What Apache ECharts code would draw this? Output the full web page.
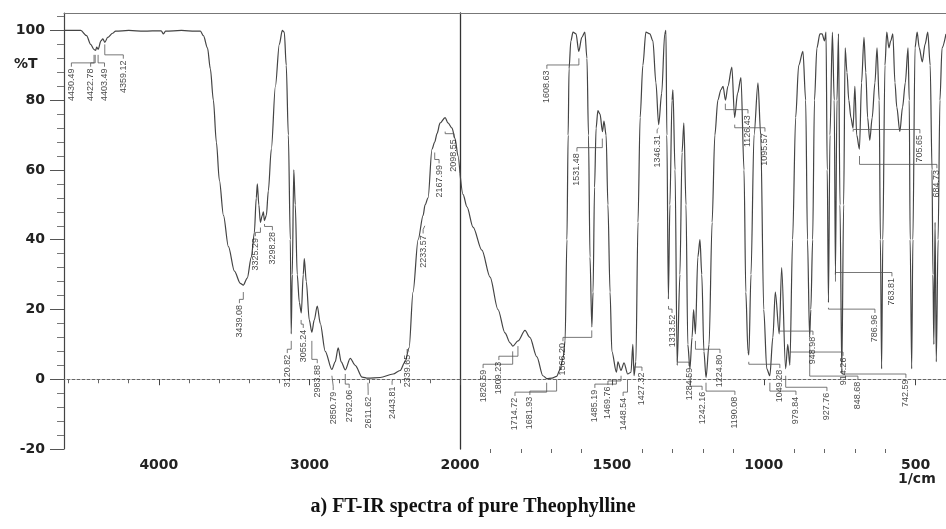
<!DOCTYPE html>
<html><head><meta charset="utf-8">
<script src="https://cdn.jsdelivr.net/npm/echarts@6/dist/echarts.min.js"></script>
<style>html,body{margin:0;padding:0;background:#fff}#c{width:946px;height:529px}</style>
</head><body><div id="c"></div>
<script>
// ---- spectrum, 4630-2000 cm-1 (compressed scale) ----
const leftWn = [4630,4519,4480,4453,4430,4420,4413,4403,4385,4372,4359,4340,4307,4287,4200,4100,3985,3969,3956,3850,3760,3724,3704,3677,3658,3638,3618,3598,3571,3538,3498,3459,3439,3413,3386,3366,3353,3346,3336,3326,3313,3306,3299,3286,3273,3253,3226,3200,3180,3167,3154,3140,3127,3121,3114,3104,3094,3081,3067,3054,3041,3034,3021,3001,2984,2968,2948,2928,2895,2851,2829,2809,2789,2762,2729,2696,2650,2612,2530,2444,2398,2365,2338,2312,2278,2245,2232,2212,2186,2168,2152,2133,2099,2080,2053,2033,2013,2000];
const leftT  = [100,100,98.5,96,94.5,94.3,95.2,94.6,97,97.6,96.6,98,99.2,99.8,100,99.8,99.9,99,99.8,100,99.8,99.8,98.5,95,89,80,68,57,47,38,31,27.5,27,29,35,42,52,56,50,45,47,48,45.5,47,54,66,84,96,100,99.5,90,70,40,13,30,60,50,30,22,19,30,34.6,28,17,13.5,17,21,16,8,2.8,5,9,5,2.7,6,4,0.6,0.3,0.5,1.5,2.5,5,9,25,40,47,50,52,66,68,70.5,73.4,75,73.5,72,69,64,59];
// ---- spectrum, 2000-400 cm-1 (expanded scale) ----
const rightWn = [2000,1990,1977,1957,1928,1901,1875,1852,1835,1826,1809,1786,1770,1747,1727,1714,1697,1682,1671,1661,1654,1648,1644,1641,1635,1628,1618,1609,1599,1589,1582,1577,1572,1566,1562,1557,1552,1546,1539,1531,1526,1519,1513,1506,1500,1485,1480,1470,1460,1448,1437,1431,1427,1421,1414,1407,1398,1388,1375,1365,1355,1346,1336,1326,1322,1319,1314,1309,1302,1299,1292,1285,1276,1269,1263,1256,1250,1243,1236,1231,1225,1217,1210,1204,1197,1190,1180,1170,1161,1151,1141,1134,1126,1118,1105,1096,1086,1075,1065,1059,1052,1049,1042,1032,1019,1010,1000,990,980,970,962,949,941,928,921,914,905,895,885,871,862,856,849,845,839,833,825,815,808,800,795,791,787,782,774,768,764,759,754,749,743,737,732,726,720,713,706,700,694,685,678,670,664,658,651,643,634,627,620,616,612,608,601,595,588,582,575,568,562,552,543,534,525,521,518,513,509,502,495,488,478,469,460,452,446,443,440,436,432,426,420,413,400];
const rightT  = [59,53,49.4,43.6,37,29.3,20,13.3,10.4,9.5,11,14,12,6.4,1,0.2,0.3,0.8,2.7,6,11,40,70,89,97,99.5,99,94,98,99.5,92,70,35,15,25,55,72,77,76,71,74,70,50,25,8,2,5,2.5,4.7,1.5,2,10,1,5,45,75,90,99.5,99,97,85,73,82,99,100,70,23,50,80,83,60,4,30,65,73.5,50,10,3,12,20,13,35,40,30,8,0.5,10,45,70,80,83,84,80,84,89.5,75,82,86.5,60,25,8,7,30,70,85,70,20,3,1,12,25,13,32,3,10,4,40,75,90,94,80,40,12,20,40,80,95,99,99,97,99.5,60,22,70,99.5,80,30,80,99,50,2,50,95,88,80,75,72,84,70,66,85,98,88,75,68.5,75,85,95,80,40,3,40,90,99.5,95,97,99,85,78,71,78,85,95,80,40,3,40,95,99.5,95,91,96,99.5,90,60,30,10,45,5,40,80,95,99];
// ---- axis ticks ----
const yTicks = [-20,0,20,40,60,80,100];
const yMinor = [-16,-12,-8,-4,4,8,12,16,24,28,32,36,44,48,52,56,64,68,72,76,84,88,92,96,104];
const xMajorLeft = [2000,3000,4000];
const xMinorLeft = [2200,2400,2600,2800,3200,3400,3600,3800,4200,4400,4600];
const xMajorRight = [500,1000,1500];
const xMinorRight = [600,700,800,900,1100,1200,1300,1400,1600,1700,1800,1900];
// ---- peak annotations ----
const peakLabels = ['4430.49','4422.78','4403.49','4359.12','3439.08','3325.29','3298.28','3120.82','3055.24','2983.88','2850.79','2762.06','2611.62','2443.81','2339.65','2233.57','2167.99','2098.55','1826.59','1809.23','1714.72','1681.93','1608.63','1566.20','1531.48','1485.19','1469.76','1448.54','1427.32','1346.31','1313.52','1284.59','1242.16','1224.80','1190.08','1126.43','1095.57','1049.28','979.84','948.98','927.76','914.26','848.68','786.96','763.81','742.59','705.65','684.73'];
const labelWn = [4581,4453,4361,4236,3465,3359,3246,3147,3041,2948,2842,2736,2610,2451,2351,2245,2139,2040,1924,1872,1819,1770,1714,1661,1615,1556,1513,1463,1401,1351,1302,1246,1203,1144,1095,1052,996,947,894,838,792,739,690,634,578,532,486,430];
const labelT = [89.1,89.1,89.1,91.4,21.3,40.5,42.2,7,14.2,4.1,-3.6,-3,-5,-2.1,7,41.3,61.4,68.8,2.7,5,-5.3,-5,88.5,10.4,64.8,-3,-2.1,-5.3,1.9,70,18.5,3.3,-3.6,7,-5,75.7,70.5,2.7,-5,12.2,-3.9,6.2,-0.7,18.5,29,-0.1,70,60];
const leaderEndT = [93,93,93,96,25,43.5,44.5,11,17,11,1,1.5,-1,0,8,44,65,71,8,9.5,-1,0,92,14,69,0,1,0,3,72,21,6,1,11,-1,79,73,5,-1,14,1,8,10,20.5,28,3,71,64];

const chart = echarts.init(document.getElementById('c'), null, {renderer: 'canvas'});
const axisFont = {fontFamily: 'DejaVu Sans', fontWeight: 'bold', fontSize: 14, color: '#222', formatter: v => String(v)};
const gridTop = 13, gridH = 436;

function leaderSeries(i) {
  const pk = parseFloat(peakLabels[i]);
  const onLeft = labelWn[i] >= 2000;
  const elbow = labelT[i] + 1.6;
  return {
    type: 'line', xAxisIndex: onLeft ? 0 : 3, yAxisIndex: onLeft ? 0 : 2,
    data: [[labelWn[i], labelT[i] + 0.5], [labelWn[i], elbow], [pk, elbow], [pk, leaderEndT[i]]],
    symbol: 'none', silent: true, animation: false, z: 3,
    lineStyle: {color: '#555', width: 0.8}
  };
}
function labelSeries(left) {
  const data = [];
  peakLabels.forEach((t, i) => { if ((labelWn[i] >= 2000) === left) data.push([labelWn[i], labelT[i], t]); });
  return {
    type: 'scatter', xAxisIndex: left ? 0 : 3, yAxisIndex: left ? 0 : 2,
    data, symbol: 'circle', symbolSize: 1, itemStyle: {color: 'rgba(0,0,0,0)'}, silent: true, animation: false, z: 4,
    label: {show: true, formatter: p => p.data[2], rotate: 90, position: 'inside', align: 'right', verticalAlign: 'middle',
      fontFamily: "'Liberation Sans Narrow', 'Liberation Sans', Arial", fontSize: 9, color: '#151515'}
  };
}

const series = [
  {type: 'line', xAxisIndex: 0, yAxisIndex: 0, data: leftWn.map((w, i) => [w, leftT[i]]), symbol: 'none', smooth: 0.3, smoothMonotone: 'x', animation: false, z: 2,
   lineStyle: {color: '#444', width: 1.2}},
  {type: 'line', xAxisIndex: 3, yAxisIndex: 2, data: rightWn.map((w, i) => [w, rightT[i]]), symbol: 'none', smooth: 0.3, smoothMonotone: 'x', animation: false, z: 2,
   lineStyle: {color: '#444', width: 1.2}},
  labelSeries(true), labelSeries(false)
];
peakLabels.forEach((_, i) => series.push(leaderSeries(i)));

const option = {
  animation: false,
  backgroundColor: '#fff',
  title: {text: 'a) FT-IR spectra of pure Theophylline', left: 'center', top: 492,
    textStyle: {fontFamily: "'Liberation Serif', serif", fontWeight: 'bold', fontSize: 20, color: '#111'}},
  grid: [
    {left: 64, top: gridTop, width: 396, height: gridH},
    {left: 460, top: gridTop, width: 486, height: gridH}
  ],
  xAxis: [
    {gridIndex: 0, type: 'value', inverse: true, min: 2000, max: 4630, position: 'bottom',
     axisLine: {show: true, lineStyle: {color: '#666', width: 1, type: [3, 2]}},
     axisTick: {show: true, customValues: xMajorLeft, length: 6, lineStyle: {color: '#444'}},
     axisLabel: {customValues: xMajorLeft, margin: 9, ...axisFont}, splitLine: {show: false}},
    {gridIndex: 0, type: 'value', inverse: true, min: 2000, max: 4630, position: 'bottom',
     axisLine: {show: false}, axisTick: {show: true, customValues: xMinorLeft, length: 4, lineStyle: {color: '#666'}},
     axisLabel: {show: false}, splitLine: {show: false}},
    {gridIndex: 0, type: 'value', inverse: true, min: 2000, max: 4630, position: 'top',
     axisLine: {show: true, lineStyle: {color: '#777', width: 1}}, axisTick: {show: false}, axisLabel: {show: false}, splitLine: {show: false}},
    {gridIndex: 1, type: 'value', inverse: true, min: 400, max: 2000, position: 'bottom',
     axisLine: {show: true, lineStyle: {color: '#666', width: 1, type: [3, 2]}},
     axisTick: {show: true, customValues: xMajorRight, length: 6, lineStyle: {color: '#444'}},
     axisLabel: {customValues: xMajorRight, margin: 9, ...axisFont}, splitLine: {show: false}},
    {gridIndex: 1, type: 'value', inverse: true, min: 400, max: 2000, position: 'bottom',
     axisLine: {show: false}, axisTick: {show: true, customValues: xMinorRight, length: 4, lineStyle: {color: '#666'}},
     axisLabel: {show: false}, splitLine: {show: false}},
    {gridIndex: 1, type: 'value', inverse: true, min: 400, max: 2000, position: 'top',
     axisLine: {show: true, lineStyle: {color: '#777', width: 1}}, axisTick: {show: false}, axisLabel: {show: false}, splitLine: {show: false}}
  ],
  yAxis: [
    {gridIndex: 0, type: 'value', min: -20, max: 105, position: 'left',
     axisLine: {show: true, lineStyle: {color: '#444', width: 1.2}},
     axisTick: {show: true, customValues: yTicks, length: 14, lineStyle: {color: '#555'}},
     axisLabel: {customValues: yTicks, margin: 19, ...axisFont},
     splitLine: {show: false}},
    {gridIndex: 0, type: 'value', min: -20, max: 105, position: 'left',
     axisLine: {show: false}, axisTick: {show: true, customValues: yMinor, length: 7, lineStyle: {color: '#777'}},
     axisLabel: {show: false}, splitLine: {show: false}},
    {gridIndex: 1, type: 'value', min: -20, max: 105, position: 'left',
     axisLine: {show: true, lineStyle: {color: '#333', width: 1.3}}, axisTick: {show: false}, axisLabel: {show: false}, splitLine: {show: false}}
  ],
  graphic: [
    {type: 'text', left: 14, top: 57, style: {text: '%T', font: "bold 14px 'DejaVu Sans'", fill: '#222'}},
    {type: 'text', left: 898, top: 472, style: {text: '1/cm', font: "bold 14px 'DejaVu Sans'", fill: '#222'}}
  ],
  series
};
chart.setOption(option);
</script></body></html>
